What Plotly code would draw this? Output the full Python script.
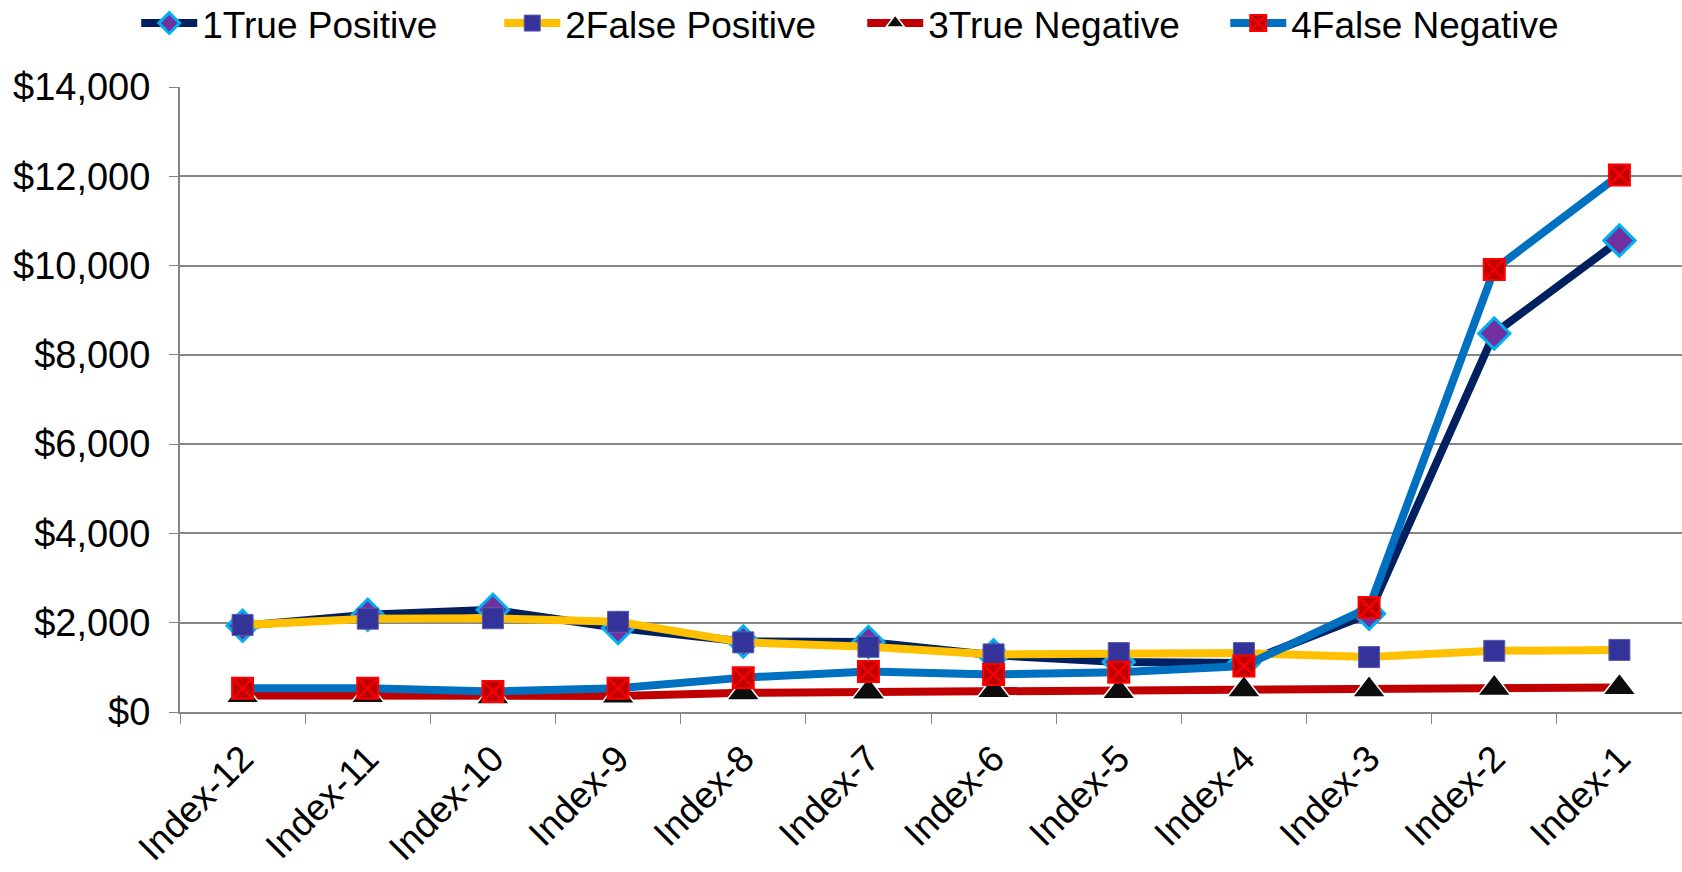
import plotly.graph_objects as go

categories = ["Index-12", "Index-11", "Index-10", "Index-9", "Index-8", "Index-7",
              "Index-6", "Index-5", "Index-4", "Index-3", "Index-2", "Index-1"]
true_positive = [1930, 2180, 2290, 1880, 1580, 1570, 1270, 1120, 1100, 2200, 8480, 10560]
false_positive = [1950, 2090, 2100, 2020, 1560, 1460, 1290, 1320, 1320, 1230, 1370, 1390]
true_negative = [370, 370, 340, 360, 430, 450, 480, 460, 500, 500, 530, 550]
false_negative = [530, 530, 460, 530, 770, 910, 840, 890, 1030, 2340, 9910, 12030]

FONT = "Liberation Sans, Arial, sans-serif"

fig = go.Figure()
fig.add_trace(go.Scatter(
    x=categories, y=true_positive, name="1True Positive", mode="lines+markers",
    line=dict(color="#002060", width=8),
    marker=dict(symbol="diamond", size=24, color="#7030A0",
                line=dict(color="#00B0F0", width=3)),
))
fig.add_trace(go.Scatter(
    x=categories, y=false_positive, name="2False Positive", mode="lines+markers",
    line=dict(color="#FFC000", width=8),
    marker=dict(symbol="square", size=21, color="#333399",
                line=dict(color="#5B5BB0", width=1)),
))
fig.add_trace(go.Scatter(
    x=categories, y=true_negative, name="3True Negative", mode="lines+markers",
    line=dict(color="#C00000", width=8),
    marker=dict(symbol="triangle-up", size=29, color="#0D0D0D",
                line=dict(color="#FFFFFF", width=1.5)),
))
fig.add_trace(go.Scatter(
    x=categories, y=false_negative, name="4False Negative", mode="lines+markers",
    line=dict(color="#0070C0", width=8),
    marker=dict(symbol="square-x", size=21, color="#C00000",
                line=dict(color="#FF0000", width=2)),
))

fig.update_layout(
    width=1682, height=872,
    margin=dict(l=180, r=0, t=87, b=160),
    paper_bgcolor="white", plot_bgcolor="white",
    font=dict(family=FONT, size=37, color="black"),
    showlegend=True,
    legend=dict(orientation="h", xref="container", yref="container",
                x=0.081, y=0.973, xanchor="left", yanchor="middle",
                font=dict(family=FONT, size=37, color="black"),
                entrywidth=292, itemwidth=56, tracegroupgap=0,
                bgcolor="rgba(0,0,0,0)"),
    xaxis=dict(type="category", range=[-0.5, 11.5], tickangle=-45,
               tickson="boundaries", ticklabelstandoff=8,
               ticks="outside", ticklen=10, tickcolor="#868686",
               showline=True, linecolor="#868686", linewidth=2,
               showgrid=False, tickfont=dict(family=FONT, size=37)),
    yaxis=dict(range=[0, 14000], dtick=2000, tickprefix="$", tickformat=",",
               ticks="outside", ticklen=9, tickcolor="#868686",
               ticklabelstandoff=11,
               showline=True, linecolor="#868686", linewidth=2,
               showgrid=True, gridcolor="#868686", gridwidth=1.5,
               zeroline=False, tickfont=dict(family=FONT, size=38)),
)

fig.write_html("out.html", config={"displayModeBar": False},
               post_script="document.body.style.margin='0';")
